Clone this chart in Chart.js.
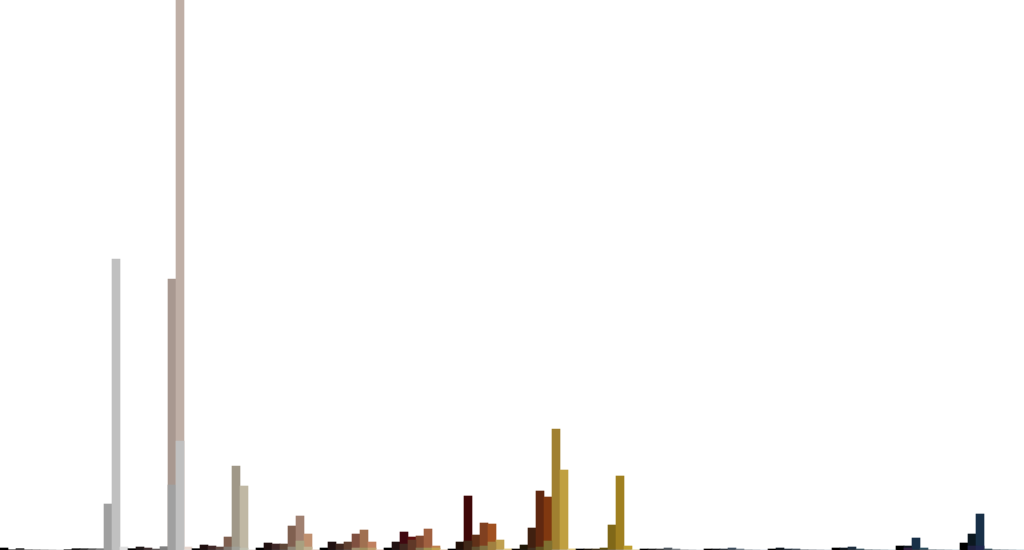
<!DOCTYPE html>
<html>
<head>
<meta charset="utf-8">
<script src="https://cdn.jsdelivr.net/npm/chart.js@4/dist/chart.umd.min.js"></script>
<style>
  html, body { margin: 0; padding: 0; background: #ffffff; }
  #wrap { position: relative; width: 1024px; height: 550px; }
</style>
</head>
<body>
<div id="wrap"><canvas id="c"></canvas></div>
<script>
// 16 groups x 8 levels = 128 bins
const groups = ['G1','G2','G3','G4','G5','G6','G7','G8','G9','G10','G11','G12','G13','G14','G15','G16'];
const levels = ['L1','L2','L3','L4','L5','L6','L7','L8'];

// back layer values (per group, 8 levels)
const backValues = [
  2, 0, 1.5, 0, 0, 0, 0, 0,
  0, 1.3, 1.3, 1.3, 1.3, 46, 291, 3,
  1.3, 3, 2, 1, 3.3, 271, 550, 3,
  1.3, 5, 4, 3, 13, 84, 64, 0,
  2, 7, 6, 6, 24, 34, 16, 0,
  2, 8, 6, 8, 16, 20, 8, 0,
  2, 8, 18, 13, 14, 21, 4, 0,
  1, 8, 54, 15, 27, 26, 10, 1,
  1, 5, 22, 59, 53, 121, 80, 1,
  1, 1, 1, 2, 25, 74, 4, 0,
  1, 1, 1, 2, 1, 0, 0, 0,
  1, 1, 1, 2, 1, 0, 0, 0,
  1, 2, 1, 1, 0, 0, 0, 0,
  2, 2, 3, 1, 0, 0, 0, 0,
  4, 4, 12, 2, 0, 0, 0, 0,
  7, 16, 36, 1, 0, 0, 0, 0
];

// front layer values (drawn over the back layer)
const frontValues = [
  0, 0, 0, 0, 0, 0, 0, 0,
  0, 0, 0, 0, 0, 0, 0, 0,
  0, 0, 0, 0, 0, 65, 109, 0,
  0, 0, 0, 0, 3, 3, 2, 0,
  0, 0, 0, 0, 3, 9, 3, 0,
  0, 0, 0, 0, 2, 2, 2, 0,
  0, 0, 6, 10, 2, 2, 2, 0,
  0, 0, 9, 3, 4, 8, 0, 0,
  0, 0, 2, 3, 9, 0, 0, 0,
  0, 0, 0, 0, 0, 0, 0, 0,
  0, 0, 0, 0, 0, 0, 0, 0,
  0, 0, 0, 0, 0, 0, 0, 0,
  0, 0, 0, 0, 0, 0, 0, 0,
  0, 0, 0, 0, 0, 0, 0, 0,
  0, 2, 0, 0, 0, 0, 0, 0,
  0, 4, 4, 0, 0, 0, 0, 0
];

const backColors = [
  '#000000','#202020','#404040','#606060','#808080','#a0a0a0','#c0c0c0','#e0e0e0',
  '#000000','#141414','#303030','#606060','#808080','#a0a0a0','#c0c0c0','#e0e0e0',
  '#000000','#201818','#403030','#605858','#808080','#a89890','#bfafa6','#e8d8d0',
  '#000000','#201010','#402828','#604840','#806050','#a09888','#c0b8a4','#e0d8c8',
  '#000000','#201010','#402828','#604838','#806050','#a08070','#c09070','#e0b090',
  '#000000','#201010','#402820','#604030','#805040','#a07050','#c08060','#e0a080',
  '#000000','#201010','#400810','#601010','#804830','#a06040','#c08050','#e0a060',
  '#000000','#201008','#400808','#603018','#804020','#a05020','#c0a050','#e0c060',
  '#100800','#201808','#402010','#602810','#803810','#a08030','#c0a040','#e0c060',
  '#000000','#201808','#403010','#605010','#806818','#a08020','#c0a030','#e0c040',
  '#000000','#202020','#404040','#505860','#808890','#a0a8b0','#c0c8d0','#e0e8f0',
  '#000000','#101418','#303840','#405060','#708090','#90a0b0','#b0c0d0','#d0e0f0',
  '#000000','#101820','#203040','#405060','#607080','#8090a0','#a0b0c0','#c0d0e0',
  '#000000','#101820','#203040','#305060','#507080','#7090a0','#90b0c0','#b0d0e0',
  '#000000','#101820','#183048','#305060','#507080','#7090a0','#90b0c0','#b0d0e0',
  '#000000','#0c1820','#183048','#305060','#507080','#7090a0','#90b0c0','#b0d0e0'
];

const frontColors = [
  '#000000','#202020','#404040','#606060','#808080','#a0a0a0','#c0c0c0','#e0e0e0',
  '#000000','#202020','#404040','#606060','#808080','#a0a0a0','#c0c0c0','#e0e0e0',
  '#000000','#202020','#404040','#606060','#808080','#a0a0a0','#c0c0c0','#e0e0e0',
  '#000000','#202020','#404040','#606060','#807870','#a0a098','#c0c0b0','#e0e0e0',
  '#000000','#202020','#404040','#606060','#908878','#a8a080','#c0b090','#e0e0e0',
  '#000000','#202020','#404040','#606060','#a09070','#a09060','#c0a070','#e0e0e0',
  '#000000','#202020','#402820','#603828','#807050','#a09050','#c0a050','#e0e0e0',
  '#000000','#202020','#402818','#605030','#807040','#a08040','#c0c0c0','#e0e0e0',
  '#000000','#202020','#403020','#605020','#807030','#a0a0a0','#c0c0c0','#e0e0e0',
  '#000000','#202020','#404040','#606060','#808080','#a0a0a0','#c0c0c0','#e0e0e0',
  '#000000','#202020','#404040','#606060','#808080','#a0a0a0','#c0c0c0','#e0e0e0',
  '#000000','#202020','#404040','#606060','#808080','#a0a0a0','#c0c0c0','#e0e0e0',
  '#000000','#202020','#404040','#606060','#808080','#a0a0a0','#c0c0c0','#e0e0e0',
  '#000000','#202020','#404040','#606060','#808080','#a0a0a0','#c0c0c0','#e0e0e0',
  '#000000','#302040','#404040','#606060','#808080','#a0a0a0','#c0c0c0','#e0e0e0',
  '#000000','#202040','#202850','#606060','#808080','#a0a0a0','#c0c0c0','#e0e0e0'
];

const labels = [];
groups.forEach(g => levels.forEach(l => labels.push(g + '-' + l)));

new Chart(document.getElementById('c'), {
  type: 'bar',
  data: {
    labels: labels,
    datasets: [
      {
        label: 'front',
        data: frontValues,
        backgroundColor: frontColors,
        borderWidth: 0,
        grouped: false,
        barPercentage: 1,
        categoryPercentage: 1
      },
      {
        label: 'back',
        data: backValues,
        backgroundColor: backColors,
        borderWidth: 0,
        grouped: false,
        barPercentage: 1,
        categoryPercentage: 1
      }
    ]
  },
  options: {
    responsive: true,
    maintainAspectRatio: false,
    animation: false,
    layout: { padding: 0 },
    plugins: { legend: { display: false }, tooltip: { enabled: false } },
    scales: {
      x: { display: false, offset: true },
      y: { display: false, min: 0, max: 550 }
    }
  }
});
</script>
</body>
</html>
